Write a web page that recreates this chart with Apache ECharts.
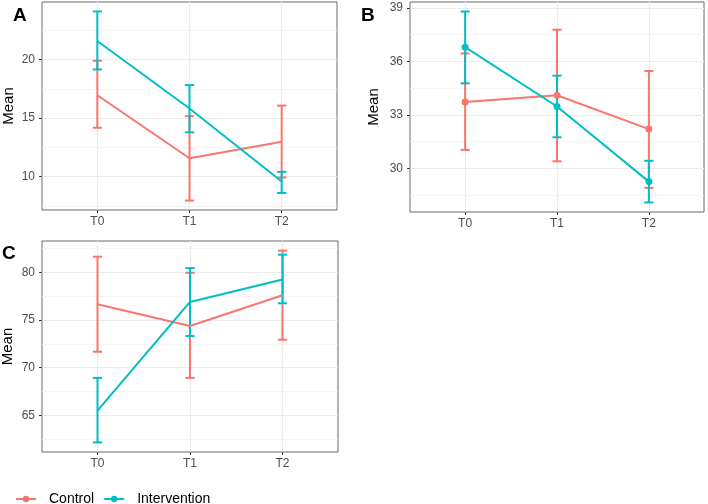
<!DOCTYPE html>
<html><head><meta charset="utf-8">
<script src="https://cdn.jsdelivr.net/npm/echarts@6/dist/echarts.min.js"></script>
<style>html,body{margin:0;padding:0;background:#fff}#c{width:708px;height:504px}</style>
</head><body><div id="c"></div>
<script>
const categories = ['T0', 'T1', 'T2'];
const groups = ['Control', 'Intervention'];

// Panel A
const aControlMean  = [16.95, 11.58, 12.99];
const aControlLower = [14.18, 7.97, 9.94];
const aControlUpper = [19.89, 15.17, 16.07];
const aInterMean    = [21.58, 15.82, 9.60];
const aInterLower   = [19.15, 13.79, 8.62];
const aInterUpper   = [24.10, 17.82, 10.42];
const aTicks = [10, 15, 20];
const aMinor = [7.5, 12.5, 17.5, 22.5];

// Panel B
const bControlMean  = [33.72, 34.10, 32.20];
const bControlLower = [31.03, 30.39, 28.90];
const bControlUpper = [36.45, 37.78, 35.46];
const bInterMean    = [36.80, 33.47, 29.25];
const bInterLower   = [34.77, 31.74, 28.08];
const bInterUpper   = [38.80, 35.20, 30.42];
const bTicks = [30, 33, 36, 39];
const bMinor = [28.5, 31.5, 34.5, 37.5];

// Panel C
const cControlMean  = [76.66, 74.38, 77.60];
const cControlLower = [71.67, 68.92, 72.93];
const cControlUpper = [81.66, 79.97, 82.30];
const cInterMean    = [65.47, 76.90, 79.26];
const cInterLower   = [62.14, 73.32, 76.76];
const cInterUpper   = [68.92, 80.46, 81.87];
const cTicks = [65, 70, 75, 80];
const cMinor = [62.5, 67.5, 72.5, 77.5, 82.5];

const colors = { Control: '#F8766D', Intervention: '#00BFC4' };
const FONT = 'Liberation Sans, Arial, Helvetica, sans-serif';

const panels = [
  { label: 'A', labelPos: { left: 13, top: 6 }, grid: { left: 42, top: 2, width: 295, height: 208 }, nameGap: 26,
    data: { Control: [aControlMean, aControlLower, aControlUpper], Intervention: [aInterMean, aInterLower, aInterUpper] },
    ticks: aTicks, minor: aMinor, markers: false },
  { label: 'B', labelPos: { left: 361, top: 6 }, grid: { left: 410, top: 2, width: 294, height: 210 }, nameGap: 29,
    data: { Control: [bControlMean, bControlLower, bControlUpper], Intervention: [bInterMean, bInterLower, bInterUpper] },
    ticks: bTicks, minor: bMinor, markers: true },
  { label: 'C', labelPos: { left: 2, top: 244 }, grid: { left: 42, top: 241, width: 296, height: 211 }, nameGap: 27,
    data: { Control: [cControlMean, cControlLower, cControlUpper], Intervention: [cInterMean, cInterLower, cInterUpper] },
    ticks: cTicks, minor: cMinor, markers: false }
];

const option = {
  animation: false,
  backgroundColor: '#fff',
  textStyle: { fontFamily: FONT },
  title: [], grid: [], xAxis: [], yAxis: [], series: [],
  legend: {
    left: 10, top: 487,
    data: groups,
    itemWidth: 20, itemHeight: 8, itemGap: 9,
    textStyle: { fontSize: 14, color: '#000', fontFamily: FONT, padding: [0, 0, 0, 8] }
  }
};

panels.forEach((p, i) => {
  option.title.push({ text: p.label, left: p.labelPos.left, top: p.labelPos.top, padding: 0,
    textStyle: { fontSize: 19, fontWeight: 'bold', color: '#000', fontFamily: FONT } });
  option.grid.push(Object.assign({ show: true, borderColor: '#6a6a6a', borderWidth: 1, backgroundColor: 'transparent',
    containLabel: false, outerBoundsMode: 'none' }, p.grid));
  let lo = Infinity, hi = -Infinity;
  groups.forEach(g => { p.data[g][1].forEach(v => lo = Math.min(lo, v)); p.data[g][2].forEach(v => hi = Math.max(hi, v)); });
  const ext = (hi - lo) * 0.05;
  const ymin = lo - ext, ymax = hi + ext;
  option.xAxis.push({
    type: 'value', gridIndex: i, min: -0.6, max: 2.6, position: 'bottom',
    axisLine: { show: false },
    axisTick: { show: true, length: 3, customValues: [0, 1, 2], lineStyle: { color: '#333' } },
    axisLabel: { customValues: [0, 1, 2], formatter: v => categories[Math.round(v)], fontSize: 12, color: '#4D4D4D', margin: 6, fontFamily: FONT },
    splitLine: { show: true, lineStyle: { color: '#EBEBEB', width: 1.2 } }
  });
  // minor grid axis
  option.yAxis.push({
    type: 'value', gridIndex: i, min: ymin, max: ymax, position: 'left',
    axisLine: { show: false }, axisLabel: { show: false, customValues: p.minor },
    axisTick: { show: false, customValues: p.minor },
    splitLine: { show: true, lineStyle: { color: '#F3F3F3', width: 0.8 } }
  });
  // main axis
  option.yAxis.push({
    type: 'value', gridIndex: i, min: ymin, max: ymax, position: 'left',
    name: 'Mean', nameLocation: 'middle', nameGap: p.nameGap, nameRotate: 90,
    nameTextStyle: { fontSize: 15, color: '#000', fontFamily: FONT },
    axisLine: { show: false },
    axisTick: { show: true, length: 3, customValues: p.ticks, lineStyle: { color: '#333' } },
    axisLabel: { customValues: p.ticks, fontSize: 12, color: '#4D4D4D', margin: 7, fontFamily: FONT },
    splitLine: { show: true, lineStyle: { color: '#EBEBEB', width: 1.2 } }
  });
});

// B's line series first so the legend icons show the line-with-point symbol
const order = [1, 0, 2];
order.forEach(i => {
  const p = panels[i];
  groups.forEach(g => {
    const mean = p.data[g][0];
    const col = colors[g];
    option.series.push({
      type: 'line', name: g, xAxisIndex: i, yAxisIndex: 2 * i + 1, z: 3,
      data: categories.map((c, k) => [k, mean[k]]),
      symbol: 'circle', symbolSize: p.markers ? 7 : 0, showSymbol: true,
      itemStyle: { color: col }, lineStyle: { color: col, width: 2 }
    });
  });
});
order.forEach(i => {
  const p = panels[i];
  groups.forEach(g => {
    const [mean, lower, upper] = p.data[g];
    const col = colors[g];
    option.series.push({
      type: 'custom', name: g, xAxisIndex: i, yAxisIndex: 2 * i + 1, silent: true, z: 2,
      itemStyle: { color: col },
      data: categories.map((c, k) => [k, lower[k], upper[k]]),
      encode: { x: 0, y: [1, 2] },
      renderItem: (params, api) => {
        const x = api.value(0);
        const a = api.coord([x, api.value(1)]);
        const b = api.coord([x, api.value(2)]);
        const half = api.size([0.1, 0])[0] / 2;
        const st = { stroke: col, lineWidth: 2 };
        return { type: 'group', children: [
          { type: 'line', shape: { x1: a[0], y1: a[1], x2: b[0], y2: b[1] }, style: st },
          { type: 'line', shape: { x1: a[0] - half, y1: a[1], x2: a[0] + half, y2: a[1] }, style: st },
          { type: 'line', shape: { x1: b[0] - half, y1: b[1], x2: b[0] + half, y2: b[1] }, style: st }
        ] };
      }
    });
  });
});

const chart = echarts.init(document.getElementById('c'), null, { renderer: 'canvas' });
chart.setOption(option);
</script>
</body></html>
